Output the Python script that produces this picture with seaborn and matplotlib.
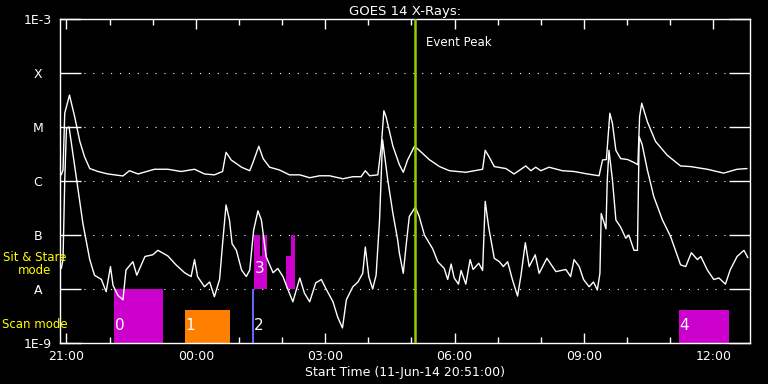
import pandas as pd
import seaborn as sns
import matplotlib
matplotlib.use("Agg")
import matplotlib.pyplot as plt
from matplotlib.ticker import FixedLocator

# Time axis: hours after start (11-Jun-14 20:51:00)
long_hours = [0.03, 0.07, 0.11, 0.22, 0.34, 0.46, 0.57, 0.69, 0.88, 1.11, 1.46, 1.61, 1.81,
              2.19, 2.50, 2.81, 3.12, 3.35, 3.58, 3.77, 3.85, 3.97, 4.21, 4.40, 4.47, 4.61,
              4.71, 4.86, 5.09, 5.32, 5.56, 5.79, 6.02, 6.25, 6.56, 6.79, 6.98, 7.08, 7.18,
              7.37, 7.45, 7.51, 7.56, 7.72, 7.87, 7.96, 8.06, 8.22, 8.33, 8.56, 8.80, 9.03,
              9.41, 9.80, 9.86, 9.95, 10.07, 10.34, 10.53, 10.80, 10.92, 11.03, 11.15, 11.34,
              11.65, 11.92, 12.23, 12.50, 12.58, 12.67, 12.75, 12.81, 12.89, 13.00, 13.16,
              13.31, 13.40, 13.44, 13.49, 13.62, 13.81, 14.08, 14.39, 14.62, 15.01, 15.39,
              15.70, 15.93]
long_flux = [1.3e-6, 1.6e-6, 1.8e-5, 3.9e-5, 1.55e-5, 5.4e-6, 2.8e-6, 1.7e-6, 1.5e-6, 1.35e-6,
             1.24e-6, 1.55e-6, 1.35e-6, 1.65e-6, 1.65e-6, 1.5e-6, 1.65e-6, 1.35e-6, 1.3e-6,
             1.5e-6, 3.4e-6, 2.45e-6, 1.8e-6, 1.55e-6, 2.15e-6, 4.4e-6, 2.6e-6, 1.8e-6, 1.6e-6,
             1.3e-6, 1.3e-6, 1.15e-6, 1.25e-6, 1.25e-6, 1.1e-6, 1.2e-6, 1.2e-6, 1.55e-6, 1.25e-6,
             1.3e-6, 4.4e-6, 2.0e-5, 1.55e-5, 4.4e-6, 2.0e-6, 1.45e-6, 2.45e-6, 4.4e-6, 3.7e-6,
             2.5e-6, 1.85e-6, 1.55e-6, 1.45e-6, 1.65e-6, 3.7e-6, 2.8e-6, 1.85e-6, 1.7e-6, 1.35e-6,
             1.9e-6, 1.55e-6, 1.8e-6, 1.55e-6, 1.8e-6, 1.55e-6, 1.5e-6, 1.35e-6, 1.25e-6, 2.45e-6,
             2.5e-6, 1.8e-5, 1.17e-5, 3.7e-6, 2.6e-6, 2.5e-6, 2.2e-6, 2.0e-6, 1.55e-5, 2.75e-5,
             1.25e-5, 5.4e-6, 3.0e-6, 1.9e-6, 1.85e-6, 1.65e-6, 1.4e-6, 1.65e-6, 1.7e-6]

short_hours = [0.03, 0.07, 0.11, 0.15, 0.21, 0.30, 0.42, 0.53, 0.69, 0.80, 0.96, 1.07, 1.17,
               1.23, 1.34, 1.46, 1.53, 1.69, 1.78, 1.97, 2.15, 2.27, 2.50, 2.69, 2.89, 3.04,
               3.12, 3.19, 3.35, 3.47, 3.58, 3.70, 3.77, 3.85, 3.93, 3.99, 4.09, 4.21, 4.32,
               4.40, 4.49, 4.59, 4.67, 4.78, 4.94, 5.05, 5.17, 5.28, 5.40, 5.56, 5.67, 5.79,
               5.93, 6.06, 6.17, 6.33, 6.44, 6.55, 6.64, 6.79, 6.91, 7.02, 7.08, 7.16, 7.25,
               7.33, 7.41, 7.48, 7.60, 7.72, 7.83, 7.87, 7.96, 8.03, 8.10, 8.24, 8.33, 8.45,
               8.64, 8.76, 8.91, 8.99, 9.07, 9.14, 9.24, 9.30, 9.41, 9.51, 9.58, 9.71, 9.80,
               9.86, 9.94, 10.07, 10.19, 10.28, 10.38, 10.49, 10.61, 10.69, 10.79, 10.88, 11.02,
               11.11, 11.29, 11.50, 11.73, 11.84, 11.92, 12.04, 12.14, 12.27, 12.37, 12.46,
               12.52, 12.55, 12.66, 12.69, 12.73, 12.81, 12.89, 13.00, 13.12, 13.19, 13.31,
               13.39, 13.43, 13.50, 13.62, 13.77, 13.97, 14.16, 14.39, 14.51, 14.64, 14.78,
               14.86, 15.01, 15.16, 15.28, 15.43, 15.54, 15.70, 15.86, 15.95]
short_flux = [2.4e-8, 3.5e-8, 1.05e-6, 9.5e-6, 1.0e-5, 3.2e-6, 6.8e-7, 1.65e-7, 3.5e-8, 1.8e-8,
              1.5e-8, 8.9e-9, 2.6e-8, 1.17e-8, 7.7e-9, 6.3e-9, 2.25e-8, 3.2e-8, 1.8e-8, 4.0e-8,
              4.3e-8, 5.2e-8, 4.1e-8, 2.8e-8, 2.0e-8, 1.7e-8, 3.5e-8, 1.7e-8, 1.1e-8, 1.35e-8,
              7.2e-9, 1.5e-8, 6.9e-8, 3.6e-7, 1.9e-7, 6.9e-8, 5.2e-8, 2.25e-8, 1.7e-8, 2.25e-8,
              1.23e-7, 2.8e-7, 1.9e-7, 4.0e-8, 2.0e-8, 2.4e-8, 1.7e-8, 1.0e-8, 5.8e-9, 1.6e-8,
              8.3e-9, 5.8e-9, 1.3e-8, 1.5e-8, 1.0e-8, 5.8e-9, 3.0e-9, 1.9e-9, 6.3e-9, 1.1e-8,
              1.35e-8, 1.95e-8, 6.0e-8, 1.7e-8, 1.0e-8, 1.8e-8, 1.9e-7, 5.8e-6, 1.05e-6, 2.5e-7,
              8.1e-8, 4.6e-8, 1.95e-8, 6.9e-8, 2.2e-7, 3.3e-7, 2.2e-7, 1.0e-7, 5.6e-8, 3.2e-8,
              2.4e-8, 1.5e-8, 2.9e-8, 1.6e-8, 1.23e-8, 2.2e-8, 1.23e-8, 3.5e-8, 2.3e-8, 3.0e-8,
              2.2e-8, 4.2e-7, 1.4e-7, 3.7e-8, 3.2e-8, 2.6e-8, 3.2e-8, 1.5e-8, 7.4e-9, 1.8e-8,
              7.2e-8, 2.6e-8, 4.3e-8, 1.95e-8, 3.7e-8, 2.1e-8, 2.3e-8, 1.7e-8, 3.5e-8, 2.6e-8,
              1.5e-8, 1.1e-8, 1.35e-8, 9.6e-9, 1.95e-8, 2.5e-7, 1.3e-7, 1.05e-6, 3.7e-6, 1.05e-6,
              1.9e-7, 1.4e-7, 8.7e-8, 1.0e-7, 5.2e-8, 5.2e-8, 6.6e-6, 4.7e-6, 1.6e-6, 5.1e-7,
              1.9e-7, 9.3e-8, 2.8e-8, 2.6e-8, 4.7e-8, 3.5e-8, 4.0e-8, 2.25e-8, 1.5e-8, 1.6e-8,
              1.23e-8, 2.25e-8, 4.0e-8, 5.2e-8, 3.8e-8]

# observing blocks: start, end (hours), bottom and top of block, colour
block_start = [1.25, 2.89, 4.45, 4.51, 4.63, 4.69, 5.25, 5.35, 14.35]
block_end = [2.38, 3.94, 4.51, 4.63, 4.69, 4.81, 5.35, 5.44, 15.51]
block_bottom = [1e-9, 1e-9, 1e-9, 1e-8, 1e-8, 1e-8, 1e-8, 1e-8, 1e-9]
block_top = [1e-8, 4.1e-9, 1e-8, 1e-7, 4.1e-8, 1e-7, 4.1e-8, 1e-7, 4.1e-9]
block_color = ["#cc00cc", "#ff8000", "#6464ff", "#cc00cc", "#cc00cc", "#cc00cc",
               "#cc00cc", "#cc00cc", "#cc00cc"]
block_labels = ["0", "1", "2", "3", "4"]
block_label_x = [1.27, 2.91, 4.49, 4.52, 14.37]
block_label_y = [1.55e-9, 1.55e-9, 1.55e-9, 1.75e-8, 1.55e-9]

event_peak = 8.24
start_offset = 0.15  # 21:00 is 9 minutes after start
tick_labels = ["21:00", "00:00", "03:00", "06:00", "09:00", "12:00"]
level_values = [1e-9, 1e-8, 1e-7, 1e-6, 1e-5, 1e-4, 1e-3]
level_labels = ["1E-9", "A", "B", "C", "M", "X", "1E-3"]

sns.set_theme(style="dark", rc={
    "figure.facecolor": "black", "axes.facecolor": "black",
    "axes.edgecolor": "white", "text.color": "white",
    "xtick.color": "white", "ytick.color": "white",
    "axes.labelcolor": "white", "axes.grid": False,
})
plt.rcParams["font.family"] = ["DejaVu Sans"]

fig = plt.figure(figsize=(7.68, 3.84), dpi=100)
ax = fig.add_axes([60 / 768, 41 / 384, 690 / 768, 324 / 384])

long_df = pd.DataFrame({"hours": long_hours, "flux": long_flux})
short_df = pd.DataFrame({"hours": short_hours, "flux": short_flux})

ax.set_yscale("log")
for s, e, b, t, c in zip(block_start, block_end, block_bottom, block_top, block_color):
    ax.bar(s, t - b, width=e - s, bottom=b, align="edge", color=c, linewidth=0, zorder=2)
for lab, x, y in zip(block_labels, block_label_x, block_label_y):
    ax.text(x, y, lab, color="white", fontsize=11, ha="left", va="bottom", zorder=3)

sns.lineplot(data=long_df, x="hours", y="flux", sort=False, estimator=None,
             color="white", linewidth=1.0, ax=ax, zorder=4)
sns.lineplot(data=short_df, x="hours", y="flux", sort=False, estimator=None,
             color="white", linewidth=1.0, ax=ax, zorder=4)

for lv in level_values[1:-1]:
    ax.axhline(lv, xmin=15 / 690, xmax=1 - 15 / 690, color="white",
               linestyle=(0, (1, 7)), linewidth=0.8, zorder=1)

ax.axvline(event_peak, color="#99cc00", linewidth=1.8, zorder=5)
ax.text(event_peak + 0.25, 3.6e-4, "Event Peak", color="white", fontsize=8.5, va="center")

ax.set_xlim(0, 16)
ax.set_ylim(1e-9, 1e-3)
ax.set_yticks(level_values)
ax.set_yticklabels(level_labels)
ax.yaxis.set_minor_locator(FixedLocator([]))
ax.set_xticks([start_offset + 3 * i for i in range(len(tick_labels))])
ax.set_xticklabels(tick_labels)
ax.xaxis.set_minor_locator(FixedLocator([start_offset + i for i in range(16)]))

ax.tick_params(axis="y", which="major", direction="in", length=15, width=1,
               left=True, right=True, pad=16, labelsize=9)
for lab in ax.get_yticklabels():
    lab.set_ha("center")
ax.tick_params(axis="x", which="major", direction="in", length=7, width=1,
               bottom=True, top=True, pad=5, labelsize=9)
ax.tick_params(axis="x", which="minor", direction="in", length=4, width=1,
               bottom=True, top=True)
for sp in ax.spines.values():
    sp.set_color("white")
    sp.set_linewidth(1)

ax.set_title("GOES 14 X-Rays:", fontsize=9.5, color="white", pad=3)
ax.set_xlabel("Start Time (11-Jun-14 20:51:00)", fontsize=9, labelpad=2)
ax.set_ylabel("")

fig.text(35 / 768, 1 - 264 / 384, "Sit & Stare\nmode", color="yellow", fontsize=8.5,
         ha="center", va="center", linespacing=1.0)
fig.text(2 / 768, 1 - 324 / 384, "Scan mode", color="yellow", fontsize=8.5,
         ha="left", va="center")

fig.savefig("out.png", dpi=100, facecolor="black")
